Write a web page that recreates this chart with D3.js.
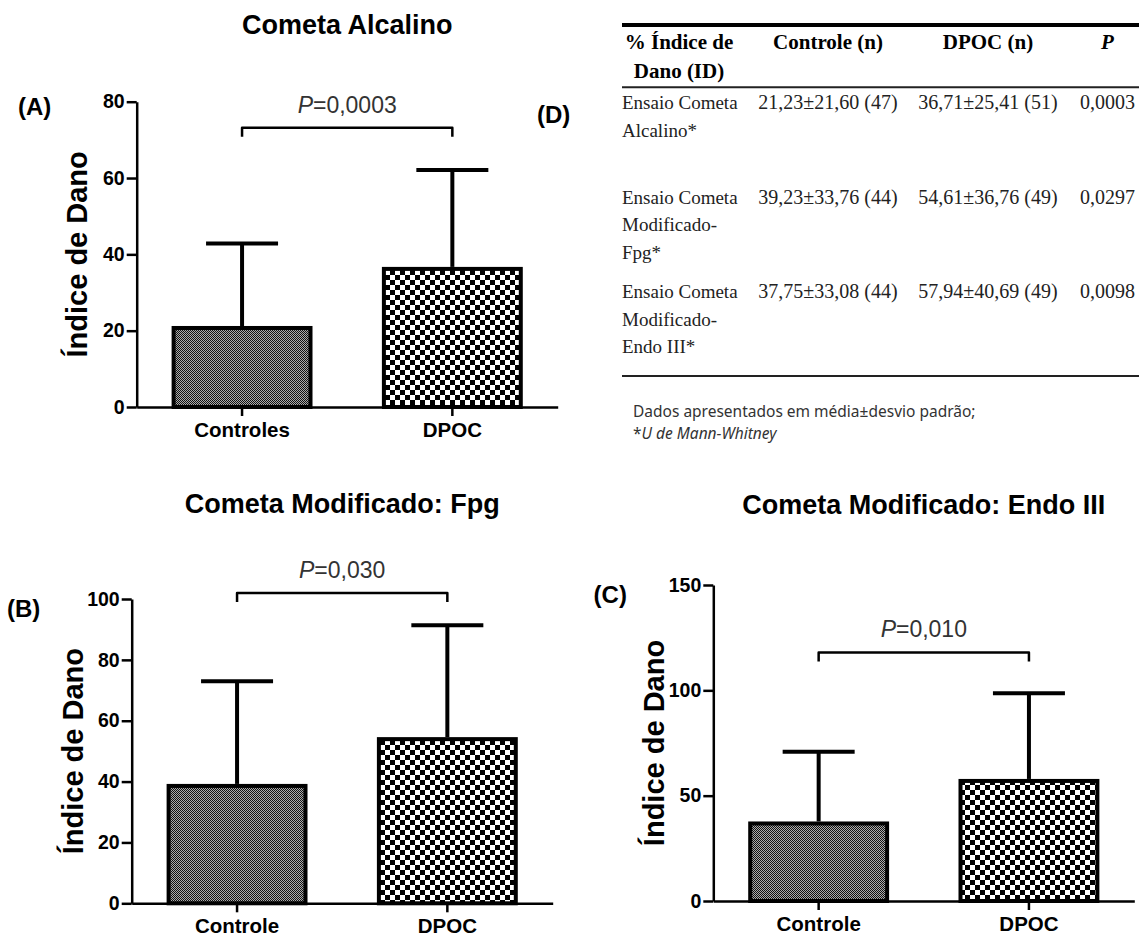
<!DOCTYPE html>
<html>
<head>
<meta charset="utf-8">
<script src="https://cdn.jsdelivr.net/npm/d3@7/dist/d3.min.js"></script>
<style>
  html, body { margin: 0; padding: 0; background: #fff; }
  svg { display: block; }
</style>
</head>
<body>
<svg id="chart"></svg>
<script>
// ---- data ----
const groupsA = ['Controles', 'DPOC'];
const groupsBC = ['Controle', 'DPOC'];

const meanAlcalino = [21.23, 36.71];
const sdAlcalino = [21.60, 25.41];
const meanFpg = [39.23, 54.61];
const sdFpg = [33.76, 36.76];
const meanEndo = [37.75, 57.94];
const sdEndo = [33.08, 40.69];

const nControle = [47, 44, 44];
const nDpoc = [51, 49, 49];
const pTable = ['0,0003', '0,0297', '0,0098'];
const pCharts = ['0,0003', '0,030', '0,010'];

const ticksA = [0, 20, 40, 60, 80];
const ticksB = [0, 20, 40, 60, 80, 100];
const ticksC = [0, 50, 100, 150];

const titles = ['Cometa Alcalino', 'Cometa Modificado: Fpg', 'Cometa Modificado: Endo III'];
const panelLabels = ['(A)', '(B)', '(C)', '(D)'];

const tableHeader = ['Controle (n)', 'DPOC (n)', 'P'];
const assayNames = [
  ['Ensaio Cometa', 'Alcalino*'],
  ['Ensaio Cometa', 'Modificado-', 'Fpg*'],
  ['Ensaio Cometa', 'Modificado-', 'Endo III*']
];

// ---- setup ----
const width = 1139;
const height = 937;
const svg = d3.select('#chart')
  .attr('width', width)
  .attr('height', height)
  .attr('font-family', 'Liberation Sans, Arial, sans-serif');

const defs = svg.append('defs');

// fine checker for controls
const pc = defs.append('pattern').attr('id', 'patCtrl')
  .attr('patternUnits', 'userSpaceOnUse').attr('width', 2).attr('height', 2);
pc.append('rect').attr('width', 2).attr('height', 2).attr('fill', '#ababab');
pc.append('rect').attr('width', 1).attr('height', 1).attr('fill', '#111');
pc.append('rect').attr('x', 1).attr('y', 1).attr('width', 1).attr('height', 1).attr('fill', '#111');

// coarse checker for DPOC
const pd = defs.append('pattern').attr('id', 'patDpoc')
  .attr('patternUnits', 'userSpaceOnUse').attr('width', 10).attr('height', 10);
pd.append('rect').attr('width', 10).attr('height', 10).attr('fill', '#fff');
pd.append('rect').attr('width', 5).attr('height', 5).attr('fill', '#000');
pd.append('rect').attr('x', 5).attr('y', 5).attr('width', 5).attr('height', 5).attr('fill', '#000');

const fills = ['url(#patCtrl)', 'url(#patDpoc)'];

const panels = [
  { groups: groupsA, mean: meanAlcalino, sd: sdAlcalino, ticks: ticksA, p: pCharts[0],
    title: titles[0], label: panelLabels[0],
    left: 136.7, top: 101.7, bottom: 407, bracket: 73.2, titleY: 34,
    labelX: 18, labelY: 114.5, yTitleX: 87 },
  { groups: groupsBC, mean: meanFpg, sd: sdFpg, ticks: ticksB, p: pCharts[1],
    title: titles[1], label: panelLabels[1],
    left: 131.7, top: 599, bottom: 903.3, bracket: 102, titleY: 512.7,
    labelX: 7, labelY: 616.5, yTitleX: 83 },
  { groups: groupsBC, mean: meanEndo, sd: sdEndo, ticks: ticksC, p: pCharts[2],
    title: titles[2], label: panelLabels[2],
    left: 713.3, top: 585, bottom: 901, bracket: 118, titleY: 514,
    labelX: 593.6, labelY: 602.5, yTitleX: 664 }
];

const drawPanel = (cfg) => {
  const g = svg.append('g');

  const x = d3.scaleBand()
    .domain(cfg.groups)
    .range([cfg.left, cfg.left + 421])
    .paddingInner(0.33)
    .paddingOuter(0.166);

  const y = d3.scaleLinear()
    .domain(d3.extent(cfg.ticks))
    .range([cfg.bottom, cfg.top]);

  const rows = cfg.groups.map((k, i) => ({ k, m: cfg.mean[i], sd: cfg.sd[i], i }));
  const cx = (d) => x(d.k) + x.bandwidth() / 2;

  // error bars (upper only)
  g.selectAll('.err')
    .data(rows)
    .join('line')
    .attr('x1', cx).attr('x2', cx)
    .attr('y1', (d) => y(d.m))
    .attr('y2', (d) => y(d.m + d.sd))
    .attr('stroke', '#000').attr('stroke-width', 4);

  g.selectAll('.cap')
    .data(rows)
    .join('line')
    .attr('x1', (d) => cx(d) - 36).attr('x2', (d) => cx(d) + 36)
    .attr('y1', (d) => y(d.m + d.sd)).attr('y2', (d) => y(d.m + d.sd))
    .attr('stroke', '#000').attr('stroke-width', 4);

  // bars
  g.selectAll('.bar')
    .data(rows)
    .join('rect')
    .attr('x', (d) => x(d.k) + 2)
    .attr('width', x.bandwidth() - 4)
    .attr('y', (d) => y(d.m) + 2)
    .attr('height', (d) => y(0) - y(d.m) - 2)
    .attr('fill', (d) => fills[d.i])
    .attr('stroke', '#000')
    .attr('stroke-width', 4);

  // axes
  const yAxis = g.append('g')
    .attr('transform', `translate(${cfg.left},0)`)
    .call(d3.axisLeft(y).tickValues(cfg.ticks).tickSize(10).tickSizeOuter(0).tickPadding(2));

  const xAxis = g.append('g')
    .attr('transform', `translate(0,${y(0)})`)
    .call(d3.axisBottom(x).tickSize(9).tickSizeOuter(0).tickPadding(6.5));

  [yAxis, xAxis].forEach((a) => {
    a.select('.domain').attr('stroke', '#000').attr('stroke-width', 2.5);
    a.selectAll('.tick line').attr('stroke', '#000').attr('stroke-width', 2.5);
    a.selectAll('.tick text').attr('fill', '#000').attr('font-weight', 'bold');
  });
  yAxis.selectAll('.tick text').attr('font-size', 19.5);
  xAxis.selectAll('.tick text').attr('font-size', 20.5);

  // axis title
  g.append('text')
    .attr('transform', `translate(${cfg.yTitleX},${(cfg.top + cfg.bottom) / 2}) rotate(-90)`)
    .attr('text-anchor', 'middle')
    .attr('font-size', 29)
    .attr('font-weight', 'bold')
    .text('Índice de Dano');

  // significance bracket
  const x1 = cx(rows[0]);
  const x2 = cx(rows[1]);
  const yb = y(cfg.bracket);
  g.append('path')
    .attr('d', `M${x1},${yb + 9}V${yb}H${x2}V${yb + 9}`)
    .attr('fill', 'none')
    .attr('stroke', '#000')
    .attr('stroke-width', 2.5)
    .attr('stroke-linejoin', 'round');

  const pt = g.append('text')
    .attr('x', (x1 + x2) / 2)
    .attr('y', yb - 15)
    .attr('text-anchor', 'middle')
    .attr('font-size', 23)
    .attr('fill', '#333');
  pt.append('tspan').attr('font-style', 'italic').text('P');
  pt.append('tspan').text('=' + cfg.p);

  // title and panel letter
  g.append('text')
    .attr('x', (x1 + x2) / 2)
    .attr('y', cfg.titleY)
    .attr('text-anchor', 'middle')
    .attr('font-size', 27)
    .attr('font-weight', 'bold')
    .text(cfg.title);

  g.append('text')
    .attr('x', cfg.labelX)
    .attr('y', cfg.labelY)
    .attr('font-size', 24)
    .attr('font-weight', 'bold')
    .text(cfg.label);
};

panels.forEach(drawPanel);

// ---- table (D) ----
const fmt = (v) => d3.format('.2f')(v).replace('.', ',');
const allMeans = [meanAlcalino, meanFpg, meanEndo];
const allSds = [sdAlcalino, sdFpg, sdEndo];
const controleCells = allMeans.map((m, i) => `${fmt(m[0])}±${fmt(allSds[i][0])} (${nControle[i]})`);
const dpocCells = allMeans.map((m, i) => `${fmt(m[1])}±${fmt(allSds[i][1])} (${nDpoc[i]})`);

const tbl = svg.append('g').attr('font-family', 'Liberation Serif, Times New Roman, serif');

svg.append('text')
  .attr('x', 537).attr('y', 123)
  .attr('font-size', 24).attr('font-weight', 'bold')
  .text(panelLabels[3]);

const colX = d3.scaleOrdinal()
  .domain(['name', ...tableHeader])
  .range([679, 828, 988, 1107.5]);
const rowY = d3.scaleLinear().domain([0, 2]).range([109.3, 298.3]);
const lineGap = 27.5;

// rules
tbl.append('line').attr('x1', 622).attr('x2', width).attr('y1', 25).attr('y2', 25)
  .attr('stroke', '#000').attr('stroke-width', 4);
tbl.append('line').attr('x1', 622).attr('x2', width).attr('y1', 87.3).attr('y2', 87.3)
  .attr('stroke', '#222').attr('stroke-width', 2);
tbl.append('line').attr('x1', 622).attr('x2', width).attr('y1', 376).attr('y2', 376)
  .attr('stroke', '#222').attr('stroke-width', 2.2);

// header
const head = tbl.append('g').attr('font-weight', 'bold').attr('font-size', 21)
  .attr('text-anchor', 'middle').attr('fill', '#000');
head.append('text').attr('x', colX('name')).attr('y', 49.3).text('% Índice de');
head.append('text').attr('x', colX('name')).attr('y', 78.3).text('Dano (ID)');
tableHeader.forEach((h) => {
  head.append('text')
    .attr('x', colX(h)).attr('y', 49.3)
    .attr('font-style', h === 'P' ? 'italic' : null)
    .text(h);
});

// body rows
const body = tbl.append('g').attr('font-size', 19).attr('fill', '#222');
assayNames.forEach((lines, i) => {
  lines.forEach((t, j) => {
    body.append('text').attr('x', 622).attr('y', rowY(i) + j * lineGap).text(t);
  });
  [controleCells[i], dpocCells[i], pTable[i]].forEach((v, k) => {
    body.append('text')
      .attr('x', colX(tableHeader[k])).attr('y', rowY(i))
      .attr('text-anchor', 'middle')
      .attr('font-size', 20)
      .text(v);
  });
});

// footnote
const note = svg.append('g').attr('font-family', 'Noto Sans, Open Sans, sans-serif')
  .attr('font-size', 15.5).attr('fill', '#333');
note.append('text').attr('x', 633).attr('y', 417).text('Dados apresentados em média±desvio padrão;');
const n2 = note.append('text').attr('x', 633).attr('y', 439);
n2.append('tspan').text('*');
n2.append('tspan').attr('font-style', 'italic').text('U de Mann-Whitney');
</script>
</body>
</html>
